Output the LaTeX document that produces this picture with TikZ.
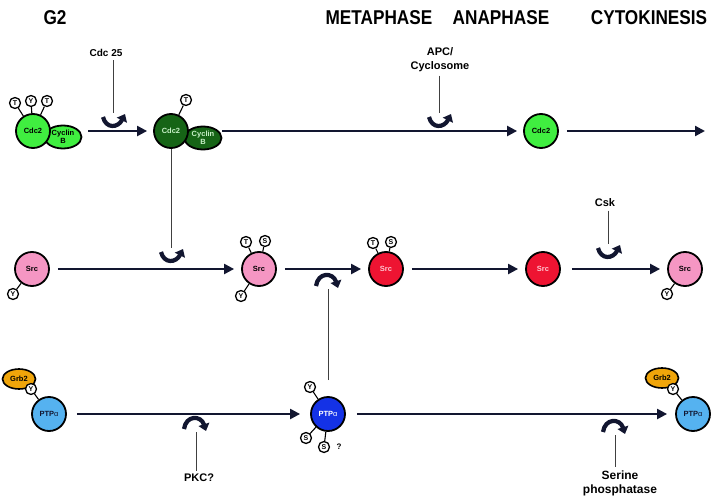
\documentclass[tikz,border=0pt]{standalone}
\usepackage{fontspec}
\setmainfont{Liberation Sans}
\newfontfamily\narrowfont[FakeStretch=0.86]{Liberation Sans}
\usetikzlibrary{shapes, arrows.meta, positioning, calc}
\definecolor{cdclight}{RGB}{64,238,64}
\definecolor{cdcdark}{RGB}{22,100,22}
\definecolor{cdcink}{RGB}{200,240,200}
\definecolor{srcpink}{RGB}{245,150,195}
\definecolor{srcred}{RGB}{238,20,50}
\definecolor{srcink}{RGB}{255,200,210}
\definecolor{ptplight}{RGB}{85,178,240}
\definecolor{ptpdark}{RGB}{20,50,230}
\definecolor{grborange}{RGB}{240,165,10}
\definecolor{inkblue}{RGB}{18,22,48}

\begin{document}
\begin{tikzpicture}[x=1pt, y=-1pt,
  prot/.style={circle, draw=black, line width=1.8pt, minimum size=34pt, inner sep=0pt, font=\bfseries\fontsize{7.5}{8}\selectfont},
  partner/.style={ellipse, draw=black, line width=1.8pt, minimum width=37pt, minimum height=23pt, inner sep=0pt, align=center, font=\bfseries\fontsize{7.5}{7.5}\selectfont},
  grb/.style={ellipse, draw=black, fill=grborange, line width=1.6pt, minimum width=33pt, minimum height=20pt, inner sep=0pt, font=\bfseries\fontsize{7.5}{8}\selectfont},
  site/.style={circle, draw=black, fill=white, line width=1.3pt, minimum size=11pt, inner sep=0pt, font=\bfseries\fontsize{7}{7}\selectfont},
  stem/.style={draw=black, line width=1.1pt},
  flow/.style={draw=inkblue, line width=2.2pt, -{Triangle[length=10pt,width=10pt]}, shorten <=8pt, shorten >=7pt},
  feed/.style={draw=black!75, line width=0.7pt},
  kick/.style={draw=inkblue, line width=4.2pt, -{Triangle[length=7pt,width=11pt]}},
  phase/.style={font=\narrowfont\bfseries\fontsize{20}{22}\selectfont},
  actor/.style={font=\bfseries\fontsize{11}{14}\selectfont, align=center},
  cupkick/.pic={\draw[kick] (-10,4) .. controls (-7,16) and (5,15) .. (12,1);},
  archkick/.pic={\draw[kick] (-12,-3) .. controls (-10,-17) and (5,-17) .. (10,-1);}
]
  \useasboundingbox (0,0) rectangle (716,498);

  \node[phase] (g2) at (55,18) {G2};
  \node[phase] (meta) at (379,18) {METAPHASE};
  \node[phase] (ana) at (501,18) {ANAPHASE};
  \node[phase] (cyto) at (649,18) {CYTOKINESIS};

  % Cdc2 / cyclin B
  \node[partner, fill=cdclight] (cycA) at (63,137) {Cyclin\\B};
  \node[prot, fill=cdclight] (cdcA) at (33,131) {Cdc2};
  \node[site] (tA) at (15,103) {T};
  \node[site] (yA) at (31,101) {Y};
  \node[site] (tB) at (47,101) {T};
  \draw[stem] (tA) -- (cdcA);
  \draw[stem] (yA) -- (cdcA);
  \draw[stem] (tB) -- (cdcA);

  \node[partner, fill=cdcdark, text=cdcink] (cycB) at (203,138) {Cyclin\\B};
  \node[prot, fill=cdcdark, text=cdcink] (cdcB) at (171,131) {Cdc2};
  \node[site] (tC) at (186,100) {T};
  \draw[stem] (tC) -- (cdcB);

  \node[prot, fill=cdclight] (cdcC) at (541,131) {Cdc2};
  \coordinate (endA) at (705,131);

  \draw[flow, shorten <=6pt, shorten >=6pt] (cycA.east |- cdcA) -- (cdcB);
  \draw[flow, shorten <=0pt, shorten >=6pt] (cycB.east |- cdcB) -- (cdcC);
  \draw[flow, shorten >=0pt] (cdcC) -- (endA);

  \node[actor, font=\bfseries\fontsize{10}{12}\selectfont] (cdc25) at (106,53) {Cdc 25};
  \coordinate (cdc25k) at (113,113);
  \draw[feed] (cdc25k |- cdc25.south) -- (cdc25k);
  \pic at (cdc25k) {cupkick};

  \node[actor] (apc) at (440,60) {APC/\\Cyclosome};
  \coordinate (apck) at (439,113);
  \draw[feed] (apck |- apc.south) -- (apck);
  \pic at (apck) {cupkick};

  % Src
  \node[prot, fill=srcpink] (srcA) at (32,269) {Src};
  \node[site] (ySa) at (13,294) {Y};
  \draw[stem] (ySa) -- (srcA);

  \node[prot, fill=srcpink] (srcB) at (259,269) {Src};
  \node[site] (tSb) at (246,242) {T};
  \node[site] (sSb) at (265,241) {S};
  \node[site] (ySb) at (241,296) {Y};
  \draw[stem] (tSb) -- (srcB);
  \draw[stem] (sSb) -- (srcB);
  \draw[stem] (ySb) -- (srcB);

  \node[prot, fill=srcred, text=srcink] (srcC) at (386,269) {Src};
  \node[site] (tSc) at (373,243) {T};
  \node[site] (sSc) at (391,242) {S};
  \draw[stem] (tSc) -- (srcC);
  \draw[stem] (sSc) -- (srcC);

  \node[prot, fill=srcred, text=srcink] (srcD) at (543,269) {Src};

  \node[prot, fill=srcpink] (srcE) at (685,269) {Src};
  \node[site] (ySe) at (667,294) {Y};
  \draw[stem] (ySe) -- (srcE);

  \draw[flow] (srcA) -- (srcB);
  \draw[flow] (srcB) -- (srcC);
  \draw[flow] (srcC) -- (srcD);
  \draw[flow, shorten <=11pt] (srcD) -- (srcE);

  \coordinate (cdcBk) at (171,248);
  \draw[feed] (cdcB) -- (cdcBk);
  \pic at (cdcBk) {cupkick};

  \node[actor] (csk) at (605,203) {Csk};
  \coordinate (cskk) at (608,244);
  \draw[feed] (cskk |- csk.south) -- (cskk);
  \pic at (cskk) {cupkick};

  % PTP alpha
  \node[prot, fill=ptplight, text=inkblue] (ptpA) at (49,414) {PTP{\mdseries α}};
  \node[grb] (grbA) at (19,379) {Grb2};
  \node[site] (yPa) at (31,389) {Y};
  \draw[stem] (yPa) -- (ptpA);

  \node[prot, fill=ptpdark, text=white] (ptpB) at (328,414) {PTP{\mdseries α}};
  \node[site] (yPb) at (310,387) {Y};
  \node[site] (sPb) at (306,438) {S};
  \node[site] (sPc) at (324,447) {S};
  \node[font=\bfseries\fontsize{8}{8}\selectfont] (qPc) at (339,447) {?};
  \draw[stem] (yPb) -- (ptpB);
  \draw[stem] (sPb) -- (ptpB);
  \draw[stem] (sPc) -- (ptpB);

  \node[prot, fill=ptplight, text=inkblue] (ptpC) at (693,414) {PTP{\mdseries α}};
  \node[grb] (grbC) at (662,378) {Grb2};
  \node[site] (yPc) at (673,389) {Y};
  \draw[stem] (yPc) -- (ptpC);

  \draw[flow, shorten <=10pt, shorten >=10pt] (ptpA) -- (ptpB);
  \draw[flow, shorten <=11pt, shorten >=8pt] (ptpB) -- (ptpC);

  \coordinate (srcCk) at (328,289);
  \draw[feed, shorten <=16pt] (ptpB) -- (srcCk);
  \pic at (srcCk) {archkick};

  \node[actor] (pkc) at (199,478) {PKC?};
  \coordinate (pkck) at (196,432);
  \draw[feed] (pkck |- pkc.north) -- (pkck);
  \pic at (pkck) {archkick};

  \node[actor, font=\bfseries\fontsize{12}{14}\selectfont] (serp) at (620,483) {Serine\\phosphatase};
  \coordinate (serk) at (615,435);
  \draw[feed] (serk |- serp.north) -- (serk);
  \pic at (serk) {archkick};
\end{tikzpicture}
\end{document}
